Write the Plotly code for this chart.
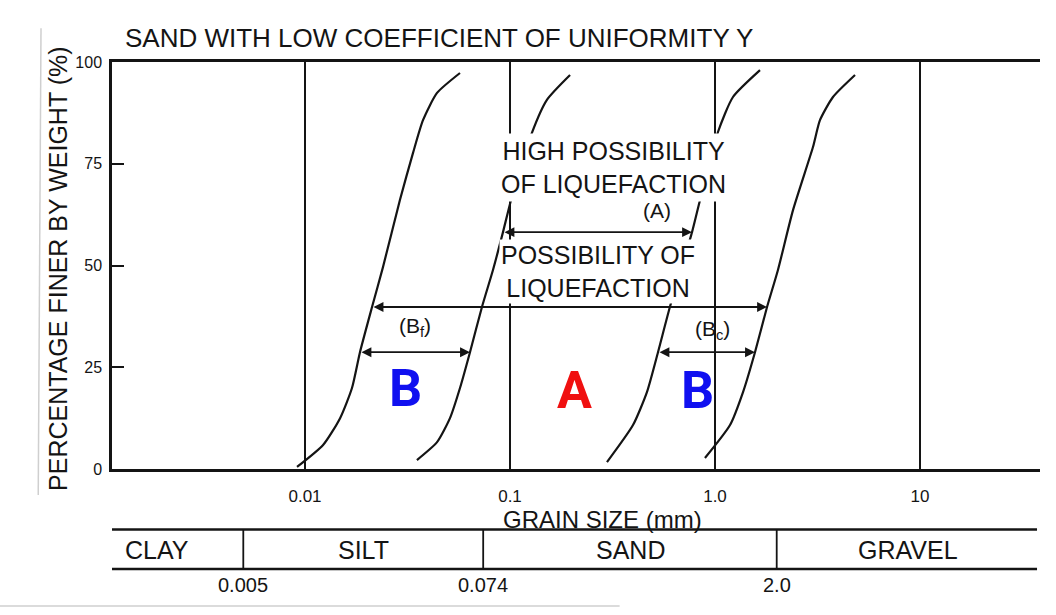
import numpy as np
import plotly.graph_objects as go

# ---------------- data (grain size in mm, percent finer by weight) ----------------
c1_size = [0.00914, 0.01225, 0.01483, 0.01695, 0.01854, 0.02123, 0.02401, 0.02904, 0.03362, 0.03763, 0.04406, 0.05702]
c1_pct  = [0.5, 5.9, 12.5, 19.9, 28.7, 39.8, 49.6, 66.1, 77.6, 85.7, 92.4, 97.3]

c2_size = [0.03515, 0.04406, 0.05096, 0.05702, 0.0638, 0.07298, 0.0826, 0.09243, 0.1012, 0.1279, 0.1514, 0.1963]
c2_pct  = [2.2, 6.6, 12.5, 19.9, 28.7, 39.8, 48.9, 58.2, 66.1, 82.6, 90.7, 96.8]

c3_size = [0.2972, 0.3981, 0.4656, 0.5272, 0.6026, 0.7727, 0.8452, 1.034, 1.224, 1.658]
c3_pct  = [1.7, 10.8, 18.9, 28.7, 39.8, 58.2, 66.1, 82.8, 91.4, 98.0]

c4_size = [0.8934, 1.184, 1.370, 1.567, 1.794, 2.028, 2.402, 3.006, 3.251, 3.763, 4.82]
c4_pct  = [2.7, 10.8, 18.9, 28.7, 39.8, 48.9, 63.6, 79.1, 85.7, 91.4, 96.8]

x_tickvals = [0.01, 0.1, 1.0, 10.0]
x_ticktext = ["0.01", "0.1", "1.0", "10"]
y_tickvals = [0, 25, 50, 75, 100]
y_ticktext = ["0", "25", "50", "75", "100"]

soil_names   = ["CLAY", "SILT", "SAND", "GRAVEL"]
soil_label_x = [0.0019, 0.0192, 0.385, 8.7]          # mm, label centres
soil_bounds  = [0.005, 0.074, 2.0]                     # mm
soil_bound_text = ["0.005", "0.074", "2.0"]

level_A = 58.2        # % level of the (A) arrow
level_long = 39.8     # % level of the long B arrow
level_short = 28.7    # % level of the (Bf) and (Bc) arrows

# label positions (mm, %)
high_pos = (0.318, 74.2)
poss_pos = (0.2685, 48.6)
A_lbl_pos = (0.521, 63.6)
Bf_lbl_pos = (0.0344, 34.9)
Bc_lbl_pos = (0.9777, 34.2)
bigB1_pos = (0.0308, 19.9)
bigA_pos = (0.2075, 19.4)
bigB2_pos = (0.826, 19.4)
grain_x = 0.284

# ---------------- figure ----------------
FONT = "Liberation Sans, Arial, sans-serif"
INK = "#141414"
L = np.log10

def x_at(sizes, pcts, level):
    return float(np.interp(level, pcts, np.log10(sizes)))

fig = go.Figure()
for s, p in [(c1_size, c1_pct), (c2_size, c2_pct), (c3_size, c3_pct), (c4_size, c4_pct)]:
    fig.add_trace(go.Scatter(x=s, y=p, mode="lines",
                             line=dict(color=INK, width=2.2, shape="spline", smoothing=0.6),
                             hoverinfo="skip", showlegend=False))

ann = []
# title
ann.append(dict(text="SAND WITH LOW COEFFICIENT OF UNIFORMITY Y", xref="paper", yref="paper",
                x=0.012, y=1.059, xanchor="left", yanchor="middle", showarrow=False,
                font=dict(size=26, color=INK, family=FONT)))
# y title
ann.append(dict(text="PERCENTAGE FINER BY WEIGHT (%)", xref="paper", yref="paper",
                x=-0.058, y=0.492, xanchor="center", yanchor="middle", textangle=-90, showarrow=False,
                font=dict(size=25, color=INK, family=FONT)))
# text blocks with white background covering lines
ann.append(dict(text="HIGH POSSIBILITY<br>OF LIQUEFACTION", x=L(high_pos[0]), y=high_pos[1],
                xref="x", yref="y", showarrow=False, bgcolor="white", borderpad=3,
                font=dict(size=25, color=INK, family=FONT)))
ann.append(dict(text="POSSIBILITY OF<br>LIQUEFACTION", x=L(poss_pos[0]), y=poss_pos[1],
                xref="x", yref="y", showarrow=False, bgcolor="white", borderpad=1,
                font=dict(size=25, color=INK, family=FONT)))
ann.append(dict(text="(A)", x=L(A_lbl_pos[0]), y=A_lbl_pos[1], xref="x", yref="y", showarrow=False,
                font=dict(size=21, color=INK, family=FONT)))
ann.append(dict(text="(B<sub>f</sub>)", x=L(Bf_lbl_pos[0]), y=Bf_lbl_pos[1], xref="x", yref="y",
                showarrow=False, font=dict(size=21, color=INK, family=FONT)))
ann.append(dict(text="(B<sub>c</sub>)", x=L(Bc_lbl_pos[0]), y=Bc_lbl_pos[1], xref="x", yref="y",
                showarrow=False, font=dict(size=21, color=INK, family=FONT)))
# big coloured letters
for txt, pos, col in [("B", bigB1_pos, "#1010f0"), ("A", bigA_pos, "#f01010"), ("B", bigB2_pos, "#1010f0")]:
    ann.append(dict(text="<b>" + txt + "</b>", x=L(pos[0]), y=pos[1], xref="x", yref="y", showarrow=False,
                    font=dict(size=52, color=col, family="Roboto, sans-serif")))

# arrows
def arrow(x0, x1, lvl):
    return dict(x=x1, y=lvl, ax=x0, ay=lvl, xref="x", yref="y", axref="x", ayref="y",
                text="", showarrow=True, arrowhead=2, arrowside="end+start",
                arrowsize=1.1, arrowwidth=1.8, arrowcolor=INK)

ann.append(arrow(x_at(c2_size, c2_pct, level_A), x_at(c3_size, c3_pct, level_A), level_A))
ann.append(arrow(x_at(c1_size, c1_pct, level_long), x_at(c4_size, c4_pct, level_long), level_long))
ann.append(arrow(x_at(c1_size, c1_pct, level_short), x_at(c2_size, c2_pct, level_short), level_short))
ann.append(arrow(x_at(c3_size, c3_pct, level_short), x_at(c4_size, c4_pct, level_short), level_short))

# grain size label & soil classification table
ann.append(dict(text="GRAIN SIZE (mm)", x=L(grain_x), y=-0.124, xref="x", yref="paper",
                showarrow=False, yanchor="middle", font=dict(size=24, color=INK, family=FONT)))
for name, xv in zip(soil_names, soil_label_x):
    ann.append(dict(text=name, x=L(xv), y=-0.199, xref="x", yref="paper", showarrow=False,
                    yanchor="middle", font=dict(size=25, color=INK, family=FONT)))
for b, t in zip(soil_bounds, soil_bound_text):
    ann.append(dict(text=t, x=L(b), y=-0.286, xref="x", yref="paper", showarrow=False,
                    yanchor="middle", font=dict(size=20, color=INK, family=FONT)))

shapes = []
for yp in [-0.1486, -0.2457]:
    shapes.append(dict(type="line", xref="paper", yref="paper", x0=0, x1=0.9968, y0=yp, y1=yp,
                       line=dict(color=INK, width=2.5)))
for b in soil_bounds:
    shapes.append(dict(type="line", xref="x", yref="paper", x0=b, x1=b, y0=-0.1486, y1=-0.2457,
                       line=dict(color=INK, width=1.8)))
# faint scan edges
shapes.append(dict(type="line", xref="paper", yref="paper", x0=-0.0765, x1=-0.0795, y0=1.083, y1=-0.064,
                   line=dict(color="#cfcfcf", width=1.5)))
shapes.append(dict(type="line", xref="paper", yref="paper", x0=-0.121, x1=0.547, y0=-0.3366, y1=-0.3366,
                   line=dict(color="#cfcfcf", width=1.5)))

fig.update_layout(
    width=1056, height=615,
    margin=dict(l=112, r=16, t=62, b=146, pad=0),
    paper_bgcolor="white", plot_bgcolor="white",
    annotations=ann, shapes=shapes,
    font=dict(family=FONT, color=INK),
)
fig.update_xaxes(type="log", range=[-2.9415, 1.5854], tickvals=x_tickvals, ticktext=x_ticktext,
                 showgrid=True, gridcolor=INK, gridwidth=1.5, showline=True, mirror=True,
                 linecolor=INK, linewidth=2.5, ticks="", ticklabelstandoff=10,
                 tickfont=dict(size=17, color=INK, family=FONT), zeroline=False)
fig.update_yaxes(range=[0, 100], tickvals=y_tickvals, ticktext=y_ticktext, showgrid=False,
                 showline=True, linecolor=INK, linewidth=2.5, ticks="inside", ticklen=12,
                 tickwidth=2, tickcolor=INK, ticklabelstandoff=4,
                 tickfont=dict(size=16, color=INK, family=FONT), zeroline=False)

fig.write_html("out.html")
